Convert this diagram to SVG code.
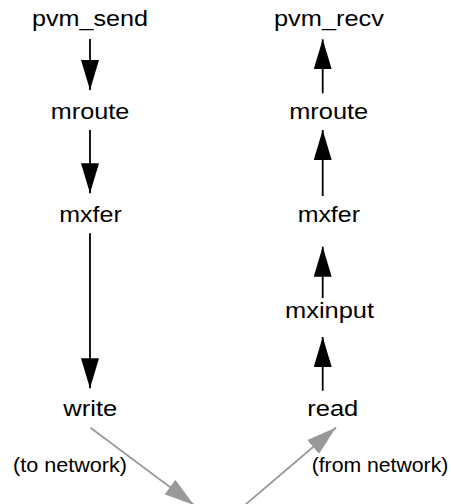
<svg xmlns="http://www.w3.org/2000/svg" width="451" height="504" viewBox="0 0 451 504">
  <defs>
    <style>
      .lbl { font-family: "Liberation Sans", Arial, Helvetica, sans-serif; font-size: 22px; fill: #000; text-anchor: middle; }
      .note { font-family: "Liberation Sans", Arial, Helvetica, sans-serif; font-size: 19.5px; fill: #000; text-anchor: middle; }
      .edge { stroke: #000; stroke-width: 1.8; fill: none; }
      .net { stroke: #999; stroke-width: 1.8; fill: none; }
    </style>
    <marker id="ah" markerUnits="userSpaceOnUse" markerWidth="30" markerHeight="18" refX="30" refY="9" orient="auto" viewBox="0 0 30 18">
      <path d="M0,0 L30,9 L0,18 Z" fill="#000"/>
    </marker>
    <marker id="ahg" markerUnits="userSpaceOnUse" markerWidth="30" markerHeight="18" refX="30" refY="9" orient="auto" viewBox="0 0 30 18">
      <path d="M0,0 L30,9 L0,18 Z" fill="#999"/>
    </marker>
  </defs>
  <rect width="451" height="504" fill="#fff"/>

  <!-- sending side -->
  <g id="pvm_send"><text class="lbl" x="90" y="26" textLength="116" lengthAdjust="spacingAndGlyphs">pvm_send</text></g>
  <g id="mroute_send"><text class="lbl" x="90" y="119" textLength="78.5" lengthAdjust="spacingAndGlyphs">mroute</text></g>
  <g id="mxfer_send"><text class="lbl" x="90.5" y="221.7" textLength="62.5" lengthAdjust="spacingAndGlyphs">mxfer</text></g>
  <g id="write"><text class="lbl" x="90.3" y="416" textLength="54" lengthAdjust="spacingAndGlyphs">write</text></g>

  <!-- receiving side -->
  <g id="pvm_recv"><text class="lbl" x="329" y="26" textLength="110" lengthAdjust="spacingAndGlyphs">pvm_recv</text></g>
  <g id="mroute_recv"><text class="lbl" x="328.7" y="119" textLength="79" lengthAdjust="spacingAndGlyphs">mroute</text></g>
  <g id="mxfer_recv"><text class="lbl" x="328.8" y="221.7" textLength="62.3" lengthAdjust="spacingAndGlyphs">mxfer</text></g>
  <g id="mxinput"><text class="lbl" x="329.5" y="318" textLength="89" lengthAdjust="spacingAndGlyphs">mxinput</text></g>
  <g id="read"><text class="lbl" x="332.8" y="416" textLength="51" lengthAdjust="spacingAndGlyphs">read</text></g>

  <!-- network notes -->
  <g id="to_network"><text class="note" x="70" y="472" textLength="114" lengthAdjust="spacingAndGlyphs">(to network)</text></g>
  <g id="from_network"><text class="note" x="380" y="472" textLength="136.7" lengthAdjust="spacingAndGlyphs">(from network)</text></g>

  <g id="connectors">
    <line class="edge" x1="90" y1="39" x2="90" y2="90" marker-end="url(#ah)"/>
    <line class="edge" x1="90" y1="130" x2="90" y2="193.3" marker-end="url(#ah)"/>
    <line class="edge" x1="90" y1="233.3" x2="90" y2="388.3" marker-end="url(#ah)"/>

    <line class="edge" x1="322.7" y1="93.3" x2="322.7" y2="39.3" marker-end="url(#ah)"/>
    <line class="edge" x1="322.7" y1="196" x2="322.7" y2="130" marker-end="url(#ah)"/>
    <line class="edge" x1="322.7" y1="298" x2="322.7" y2="246.7" marker-end="url(#ah)"/>
    <line class="edge" x1="322.7" y1="390.7" x2="322.7" y2="337" marker-end="url(#ah)"/>

    <line class="net" x1="90.5" y1="427.7" x2="194" y2="505" marker-end="url(#ahg)"/>
    <line class="net" x1="245" y1="505" x2="336" y2="427.5" marker-end="url(#ahg)"/>
  </g>
</svg>
